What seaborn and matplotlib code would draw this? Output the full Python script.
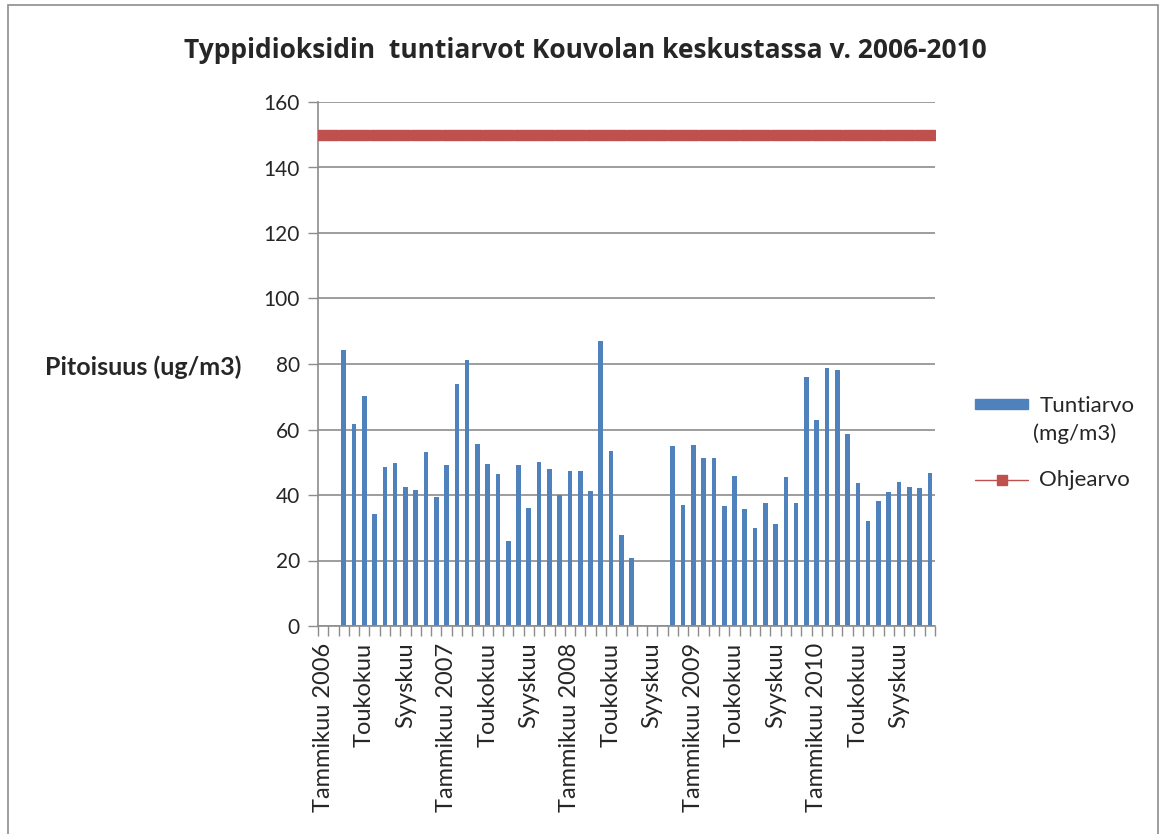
"""
Typpidioksidin tuntiarvot Kouvolan keskustassa 2006-2010
"""

import numpy as np
import pandas as pd
import matplotlib
matplotlib.use("Agg")
import matplotlib.pyplot as plt
from matplotlib.patches import Patch, Rectangle
from matplotlib.lines import Line2D
import seaborn as sns

# kuukaudet ja vuodet
kuukaudet = ["Tammikuu", "Helmikuu", "Maaliskuu", "Huhtikuu", "Toukokuu", "Kesäkuu",
             "Heinäkuu", "Elokuu", "Syyskuu", "Lokakuu", "Marraskuu", "Joulukuu"]
vuodet = [2006, 2007, 2008, 2009, 2010]

# tuntiarvot (NaN = ei mittausta)
tuntiarvo_2006 = [np.nan, np.nan, 84.4, 61.6, 70.3, 34.2, 48.4, 49.8, 42.4, 41.5, 53.0, 39.3]
tuntiarvo_2007 = [49.1, 73.9, 81.3, 55.7, 49.5, 46.3, 25.9, 49.1, 36.0, 50.2, 48.0, 39.9]
tuntiarvo_2008 = [47.4, 47.4, 41.2, 87.1, 53.4, 27.9, 20.7, np.nan, np.nan, np.nan, 54.9, 36.9]
tuntiarvo_2009 = [55.3, 51.4, 51.4, 36.5, 45.9, 35.7, 29.8, 37.7, 31.0, 45.5, 37.7, 76.1]
tuntiarvo_2010 = [62.9, 78.9, 78.2, 58.5, 43.6, 32.1, 38.1, 40.8, 44.0, 42.4, 42.0, 46.7]

ohjearvo = 150

labels = [f"{k} {v}" for v in vuodet for k in kuukaudet]
values = tuntiarvo_2006 + tuntiarvo_2007 + tuntiarvo_2008 + tuntiarvo_2009 + tuntiarvo_2010
df = pd.DataFrame({"kuukausi": labels, "tuntiarvo": values})

BLUE = "#4F81BD"
RED = "#C0504D"
GRID = "#8C8C8C"

sns.set_theme(style="white")
plt.rcParams["font.family"] = ["Lato", "DejaVu Sans"]

fig = plt.figure(figsize=(11.66, 8.34), dpi=100)
ax = fig.add_axes([318 / 1166, 1 - 626 / 834, (935 - 318) / 1166, (626 - 102) / 834])

sns.barplot(data=df, x="kuukausi", y="tuntiarvo", order=labels, color=BLUE,
            saturation=1, width=0.45, linewidth=0, ax=ax, errorbar=None)
n = len(labels)
ax.plot(range(n), [ohjearvo] * n, color=RED, lw=3, marker="s", markersize=6.5,
        markeredgecolor=RED, zorder=3)

ax.set_xlim(-0.5, n - 0.5)
ax.set_ylim(0, 160)
ax.set_yticks(range(0, 161, 20))
ax.yaxis.grid(True, color=GRID, lw=1.2)
ax.set_axisbelow(True)

# x-akselin nimikkeet joka neljäs kuukausi
ticklabels = []
for i in range(n):
    if i % 12 == 0:
        ticklabels.append(f"Tammikuu {vuodet[i // 12]}")
    elif i % 4 == 0:
        ticklabels.append(kuukaudet[i % 12])
    else:
        ticklabels.append("")
ax.set_xticks(range(n))
ax.set_xticklabels(ticklabels, rotation=90, fontsize=17)
ax.set_xticks(np.arange(-0.5, n, 1), minor=True)
ax.tick_params(axis="x", which="major", length=0, pad=12)
ax.tick_params(axis="x", which="minor", length=7, width=1, color=GRID, bottom=True)
ax.tick_params(axis="y", length=7, width=1, color=GRID, left=True, labelsize=15, pad=6)

for s in ["top", "right"]:
    ax.spines[s].set_visible(False)
for s in ["left", "bottom"]:
    ax.spines[s].set_color(GRID)
    ax.spines[s].set_linewidth(1.2)

ax.set_xlabel("")
ax.set_ylabel("")
fig.text(45 / 1166, 1 - 367 / 834, "Pitoisuus (ug/m3)", fontsize=18, fontweight="bold",
         ha="left", va="center")
fig.text(585 / 1166, 1 - 51 / 834, "Typpidioksidin  tuntiarvot Kouvolan keskustassa v. 2006-2010",
         fontsize=19, fontweight="bold", ha="center", va="center",
         family=["Open Sans", "DejaVu Sans"])

# selite
handles = [Patch(facecolor=BLUE, edgecolor=BLUE),
           Line2D([0], [0], color=RED, lw=1, marker="s", markersize=7)]
fig.legend(handles, ["Tuntiarvo", "Ohjearvo"], loc="upper left",
           bbox_to_anchor=(975 / 1166, 1 - 396 / 834), frameon=False, fontsize=16,
           borderpad=0, borderaxespad=0, handlelength=2.4, handleheight=0.36,
           labelspacing=2.45, handletextpad=0.5)
fig.text(1033 / 1166, 1 - 434 / 834, "(mg/m3)", fontsize=16, ha="left", va="center")

# kuvan kehys
fig.patches.append(Rectangle((8 / 1166, -0.01), 1150 / 1166, 1 - 5 / 834 + 0.01,
                             transform=fig.transFigure, fill=False, edgecolor="#8C8C8C", lw=1.2))

plt.savefig("out.png", dpi=100)
